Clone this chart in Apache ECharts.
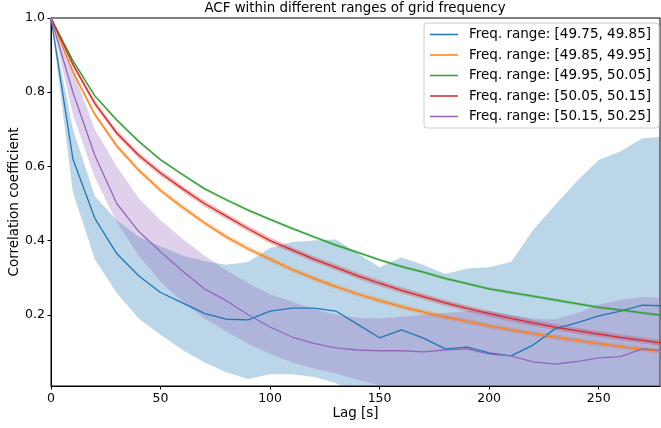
<!DOCTYPE html>
<html>
<head>
<meta charset="utf-8">
<script src="https://cdn.jsdelivr.net/npm/echarts@6/dist/echarts.min.js"></script>
<style>
  html, body { margin: 0; padding: 0; background: #fff; }
  #chart { width: 661px; height: 428px; }
</style>
</head>
<body>
<div id="chart"></div>
<script>
// lag in seconds
const lags = [0, 10, 20, 30, 40, 50, 60, 70, 80, 90, 100, 110, 120, 130, 140, 150, 160, 170, 180, 190, 200, 210, 220, 230, 240, 250, 260, 270, 280];

const rangeNames = [
  "Freq. range: [49.75, 49.85]",
  "Freq. range: [49.85, 49.95]",
  "Freq. range: [49.95, 50.05]",
  "Freq. range: [50.05, 50.15]",
  "Freq. range: [50.15, 50.25]"
];
const colors = ["#1f77b4", "#ff7f0e", "#2ca02c", "#d62728", "#9467bd"];

// [49.75, 49.85]
const blueMean = [1.0, 0.62, 0.46, 0.365, 0.305, 0.26, 0.232, 0.204, 0.188, 0.186, 0.21, 0.218, 0.218, 0.21, 0.174, 0.138, 0.159, 0.137, 0.108, 0.113, 0.097, 0.089, 0.118, 0.162, 0.178, 0.197, 0.21, 0.226, 0.224];
const blueLow = [1.0, 0.53, 0.35, 0.259, 0.19, 0.146, 0.105, 0.072, 0.045, 0.027, 0.04, 0.04, 0.032, 0.016, -0.01, -0.03, -0.04, -0.05, -0.06, -0.06, -0.07, -0.07, -0.08, -0.08, -0.09, -0.09, -0.1, -0.1, -0.1];
const blueHigh = [1.0, 0.7, 0.52, 0.455, 0.41, 0.385, 0.36, 0.345, 0.335, 0.342, 0.38, 0.396, 0.4, 0.403, 0.365, 0.328, 0.355, 0.334, 0.31, 0.325, 0.328, 0.342, 0.428, 0.495, 0.56, 0.617, 0.641, 0.676, 0.68];

// [49.85, 49.95]
const orangeMean = [1.0, 0.855, 0.74, 0.655, 0.59, 0.535, 0.49, 0.448, 0.41, 0.378, 0.35, 0.322, 0.298, 0.276, 0.256, 0.238, 0.222, 0.207, 0.194, 0.182, 0.17, 0.159, 0.149, 0.14, 0.131, 0.122, 0.114, 0.107, 0.1];
const orangeErr = [0, 0.007, 0.007, 0.007, 0.007, 0.007, 0.007, 0.007, 0.007, 0.007, 0.007, 0.007, 0.007, 0.007, 0.007, 0.007, 0.007, 0.007, 0.007, 0.007, 0.007, 0.007, 0.007, 0.007, 0.007, 0.007, 0.007, 0.007, 0.007];

// [49.95, 50.05]
const greenMean = [1.0, 0.885, 0.79, 0.725, 0.668, 0.618, 0.578, 0.54, 0.51, 0.482, 0.457, 0.433, 0.41, 0.388, 0.368, 0.348, 0.33, 0.315, 0.298, 0.284, 0.27, 0.26, 0.25, 0.24, 0.23, 0.22, 0.213, 0.205, 0.198];
const greenErr = [0, 0.004, 0.004, 0.004, 0.004, 0.004, 0.004, 0.004, 0.004, 0.004, 0.004, 0.004, 0.004, 0.004, 0.004, 0.004, 0.004, 0.004, 0.004, 0.004, 0.004, 0.004, 0.004, 0.004, 0.004, 0.004, 0.004, 0.004, 0.004];

// [50.05, 50.15]
const redMean = [1.0, 0.875, 0.77, 0.69, 0.63, 0.582, 0.54, 0.5, 0.466, 0.432, 0.4, 0.375, 0.35, 0.328, 0.305, 0.285, 0.266, 0.249, 0.232, 0.217, 0.203, 0.19, 0.178, 0.167, 0.157, 0.148, 0.139, 0.131, 0.123];
const redErr = [0, 0.008, 0.008, 0.008, 0.008, 0.008, 0.008, 0.008, 0.008, 0.008, 0.008, 0.008, 0.008, 0.008, 0.008, 0.008, 0.008, 0.008, 0.008, 0.008, 0.008, 0.008, 0.008, 0.008, 0.008, 0.008, 0.008, 0.008, 0.008];

// [50.15, 50.25]
const purpleMean = [1.0, 0.8, 0.63, 0.5, 0.425, 0.37, 0.318, 0.27, 0.238, 0.2, 0.167, 0.14, 0.123, 0.111, 0.105, 0.103, 0.103, 0.1, 0.105, 0.108, 0.094, 0.089, 0.073, 0.067, 0.074, 0.084, 0.087, 0.108, 0.103];
const purpleLow = [1.0, 0.74, 0.57, 0.45, 0.36, 0.29, 0.235, 0.19, 0.155, 0.122, 0.095, 0.072, 0.055, 0.042, 0.025, 0.01, 0.0, -0.01, -0.01, -0.02, -0.02, -0.03, -0.03, -0.03, -0.03, -0.03, -0.03, -0.03, -0.03];
const purpleHigh = [1.0, 0.86, 0.7, 0.6, 0.515, 0.455, 0.405, 0.36, 0.32, 0.285, 0.255, 0.235, 0.215, 0.2, 0.192, 0.19, 0.195, 0.2, 0.205, 0.21, 0.21, 0.2, 0.19, 0.187, 0.204, 0.227, 0.24, 0.248, 0.245];

const xTicks = [0, 50, 100, 150, 200, 250];
const yTicks = [0.2, 0.4, 0.6, 0.8, 1.0];

const font = "DejaVu Sans";

const rgba = (hex, a) => {
  const n = parseInt(hex.slice(1), 16);
  return `rgba(${(n >> 16) & 255},${(n >> 8) & 255},${n & 255},${a})`;
};

const pairs = (ys) => lags.map((x, i) => [x, ys[i]]);

// filled band between low and high, projected with the axes
const bandSeries = (low, high, color) => ({
  type: "custom",
  data: [[0, 0]],
  clip: true,
  silent: true,
  z: 1,
  renderItem: (params, api) => {
    const top = lags.map((x, i) => api.coord([x, high[i]]));
    const bottom = lags.map((x, i) => api.coord([x, low[i]])).reverse();
    return {
      type: "polygon",
      shape: { points: top.concat(bottom) },
      style: { fill: rgba(color, 0.3) }
    };
  }
});

const lineSeries = (name, ys, color) => ({
  name,
  type: "line",
  data: pairs(ys),
  symbol: "none",
  lineStyle: { color, width: 1.3 },
  itemStyle: { color },
  z: 3
});

const series = [
  bandSeries(blueLow, blueHigh, colors[0]),
  bandSeries(orangeMean.map((v, i) => v - orangeErr[i]), orangeMean.map((v, i) => v + orangeErr[i]), colors[1]),
  bandSeries(greenMean.map((v, i) => v - greenErr[i]), greenMean.map((v, i) => v + greenErr[i]), colors[2]),
  bandSeries(redMean.map((v, i) => v - redErr[i]), redMean.map((v, i) => v + redErr[i]), colors[3]),
  bandSeries(purpleLow, purpleHigh, colors[4]),
  lineSeries(rangeNames[0], blueMean, colors[0]),
  lineSeries(rangeNames[1], orangeMean, colors[1]),
  lineSeries(rangeNames[2], greenMean, colors[2]),
  lineSeries(rangeNames[3], redMean, colors[3]),
  lineSeries(rangeNames[4], purpleMean, colors[4])
];

const option = {
  animation: false,
  backgroundColor: "#fff",
  textStyle: { fontFamily: font },
  title: {
    text: "ACF within different ranges of grid frequency",
    left: 355,
    textAlign: "center",
    top: 2,
    padding: 0,
    textStyle: { fontFamily: font, fontSize: 13.4, fontWeight: "normal", color: "#000" }
  },
  grid: {
    left: 51,
    right: 1,
    top: 18,
    bottom: 42,
    outerBoundsMode: "none",
    containLabel: false,
    show: true,
    borderColor: "#000",
    borderWidth: 1
  },
  legend: {
    data: rangeNames,
    orient: "vertical",
    right: 2,
    top: 23,
    padding: [3.5, 8, 3.5, 6],
    icon: "rect",
    itemWidth: 28,
    itemHeight: 1.5,
    itemGap: 4.5,
    backgroundColor: "rgba(255,255,255,0.8)",
    borderColor: "#cccccc",
    borderWidth: 1,
    borderRadius: 3,
    textStyle: { fontFamily: font, fontSize: 13.5, lineHeight: 16, color: "#000", padding: [0, 0, 0, 6] }
  },
  xAxis: {
    type: "value",
    min: 0,
    max: 278,
    name: "Lag [s]",
    nameLocation: "middle",
    nameGap: 20,
    nameMoveOverlap: false,
    nameTextStyle: { fontFamily: font, fontSize: 13.5, color: "#000" },
    axisLine: { show: true, onZero: false, lineStyle: { color: "#000", width: 1 } },
    axisTick: { show: true, length: 3.5, customValues: xTicks, lineStyle: { color: "#000" } },
    axisLabel: { customValues: xTicks, margin: 6, fontFamily: font, fontSize: 12.5, color: "#000" },
    splitLine: { show: false }
  },
  yAxis: {
    type: "value",
    min: 0.008,
    max: 1.0,
    name: "Correlation coefficient",
    nameLocation: "middle",
    nameGap: 30,
    nameMoveOverlap: false,
    nameTextStyle: { fontFamily: font, fontSize: 13.5, color: "#000" },
    axisLine: { show: true, onZero: false, lineStyle: { color: "#000", width: 1 } },
    axisTick: { show: true, length: 3.5, customValues: yTicks, lineStyle: { color: "#000" } },
    axisLabel: {
      customValues: yTicks,
      margin: 6,
      fontFamily: font,
      fontSize: 12.5,
      color: "#000",
      formatter: (v) => v.toFixed(1)
    },
    splitLine: { show: false }
  },
  series
};

const myChart = echarts.init(document.getElementById("chart"), null, { renderer: "canvas" });
myChart.setOption(option);
</script>
</body>
</html>
